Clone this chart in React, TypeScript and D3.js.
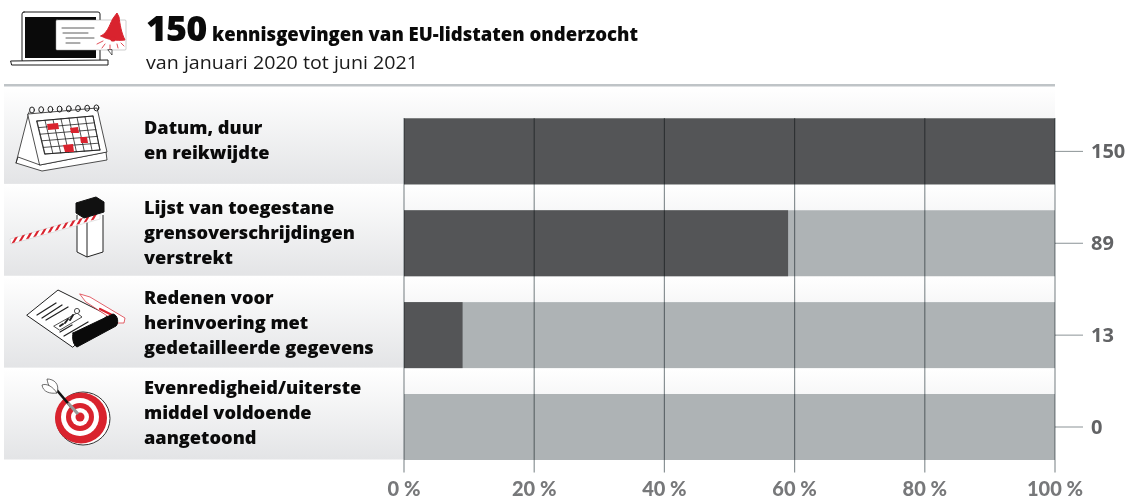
import React from "react";
import * as d3 from "d3";

const rowNames = ["datum", "lijst", "redenen", "evenredigheid"];
const rowLabels = [
  ["Datum, duur", "en reikwijdte"],
  ["Lijst van toegestane", "grensoverschrijdingen", "verstrekt"],
  ["Redenen voor", "herinvoering met", "gedetailleerde gegevens"],
  ["Evenredigheid/uiterste", "middel voldoende", "aangetoond"],
];
const counts = [150, 89, 13, 0];
const shares = [100, 59, 9, 0];
const ticks = [0, 20, 40, 60, 80, 100];
const titleNumber = "150";
const titleText = "kennisgevingen van EU-lidstaten onderzocht";
const subtitle = "van januari 2020 tot juni 2021";

const FONT = "'Open Sans', sans-serif";
const DARK = "#545557";
const LIGHT = "#aeb3b5";
const RED = "#d9232e";
const INK = "#1a1a1a";

const x = d3.scaleLinear().domain([0, 100]).range([404, 1055]);
const bandTop = d3.scaleBand<string>().domain(rowNames).range([92.5, 460]).paddingInner(0);
const labelBaselines = [134, 214, 304, 394];

function Laptop() {
  return (
    <g stroke={INK} fill="none" strokeLinejoin="round" strokeLinecap="round">
      <rect x={22} y={12} width={78} height={50} rx={2} fill="#fff" strokeWidth={1} />
      <rect x={25} y={17} width={71} height={41} fill="#0a0a0a" stroke="none" />
      <path d="M11 61 L108 60 L108 65 L12 65 Z" fill="#fff" strokeWidth={1} />
      <rect x={56} y={20} width={70} height={30} rx={1} fill="#fff" strokeWidth={0.5} stroke="#999" />
      <path d="M108 50 L112 55 L112 50 Z" fill="#fff" strokeWidth={0.7} />
      <path d="M62 28 H94 M63 33 H88 M66 38 H94 M66 43 H80" strokeWidth={0.8} stroke="#333" />
      <path d="M101 36 C109 32 110 22 114 17 L117 13 L119 17 C120 24 121 32 125 40 C117 41 108 40 101 36 Z" fill={RED} stroke={RED} />
      <circle cx={113} cy={39} r={2.6} fill={RED} stroke="none" />
      <path d="M97 44 L103 41 M102 48 L105 44 M110 49 L110 45 M118 48 L117 44 M124 46 L121 43" stroke={RED} strokeWidth={0.8} />
    </g>
  );
}

function Calendar() {
  const cols = d3.range(8);
  const lines = d3.range(6);
  return (
    <g stroke="#222" fill="none" strokeLinejoin="round" strokeLinecap="round" strokeWidth={0.8}>
      <path d="M29 112 L16 163 L42 171 L107 160 L106 152" fill="#fff" />
      <path d="M16 163 L18 157 L40 165 L106 152" />
      <path d="M28 114 L97 108 L107 152 L40 165 Z" fill="#fff" />
      <path d="M37 121 L93 116 L100 150 L45 154 Z" fill="#fff" />
      {lines.map((i) => (
        <line key={i} x1={37 + i * 1.6} y1={121 + i * 6.6} x2={93 + i * 1.4} y2={116 + i * 6.8} />
      ))}
      {cols.map((i) => (
        <line key={i} x1={37 + i * 8} y1={121 - i * 0.7} x2={45 + i * 7.85} y2={154 - i * 0.57} />
      ))}
      <path d="M47 124 L58 123 L59 129 L48 130 Z M70 128 L78 127 L79 133 L71 133 Z M80 137 L87 137 L88 143 L81 143 Z M63 145 L73 144 L74 152 L65 152 Z" fill={RED} stroke="none" />
      {d3.range(8).map((i) => (
        <ellipse key={i} cx={32 + i * 9.2} cy={110 - i * 0.3} rx={2.4} ry={3} strokeWidth={1} />
      ))}
    </g>
  );
}

function Barrier() {
  const stripes = d3.range(12);
  return (
    <g strokeLinejoin="round">
      <path d="M77 215 L77 252 L87 257 L103 252 L103 215" fill="#fff" stroke="#222" strokeWidth={1} />
      <path d="M87 222 L87 257" stroke="#222" strokeWidth={1} />
      <path d="M10 239 L100 213 L100 219 L11 244 Z" fill="#fff" stroke="#bbb" strokeWidth={0.4} />
      {stripes.map((i) => (
        <path key={i} d={`M${15 + i * 7.2} ${237.5 - i * 2.08} l3 -0.9 l-3.5 6 l-3 0.9 Z`} fill={RED} />
      ))}
      <path d="M76 203 L96 197 L104 202 L104 212 L84 218 L76 213 Z" fill="#111" stroke="#111" />
    </g>
  );
}

function Document() {
  return (
    <g strokeLinejoin="round" strokeLinecap="round">
      <path d="M27 315 L58 290 L108 315 L73 347 Z" fill="#fff" stroke="#222" strokeWidth={1} />
      <path d="M80 294 L90 297 L125 318 L124 323 L118 323 L86 302 Z" fill="#fff" stroke={RED} strokeWidth={0.7} />
      <path d="M100 309 L114 316" stroke={RED} strokeWidth={2.2} />
      <path d="M73 333 L113 314 C118 315 119 323 116 326 L77 347 C73 345 72 338 73 333 Z" fill="#0a0a0a" stroke="#0a0a0a" />
      <path d="M37 315 L56 303 M42 318 L62 305 M46 320 L68 307 M64 336 L88 322 M60 332 L72 325" stroke="#222" strokeWidth={1.3} />
      <path d="M54 326 L77 313 L82 317 L60 330 Z" fill="#fff" stroke="#222" strokeWidth={0.8} />
      <path d="M60 326 L63 324 M65 323 L68 319 M70 320 L73 315" stroke="#222" strokeWidth={2} />
      <circle cx={77} cy={311} r={2.6} fill="#fff" stroke="#222" strokeWidth={0.8} />
    </g>
  );
}

function Target() {
  return (
    <g>
      <ellipse cx={83} cy={418.5} rx={27} ry={26.5} fill="#fff" stroke="#333" strokeWidth={1} />
      <ellipse cx={81} cy={418} rx={26} ry={25.5} fill={RED} />
      <ellipse cx={80} cy={417} rx={19} ry={19} fill="#fff" />
      <ellipse cx={80} cy={417} rx={14} ry={14} fill={RED} />
      <ellipse cx={80} cy={417} rx={9} ry={9} fill="#fff" />
      <ellipse cx={80} cy={417} rx={4.5} ry={4.5} fill={RED} />
      <path d="M55 388 L72 408" stroke="#111" strokeWidth={2.6} />
      <path d="M68 403 L78 414" stroke="#999" strokeWidth={3.2} />
      <path d="M57 393 C60 384 54 379 47 379 C48 385 50 390 57 393 Z" fill="#fff" stroke="#333" strokeWidth={0.7} />
      <path d="M57 393 C50 394 43 392 42 385 C47 383 53 387 57 393 Z" fill="#fff" stroke="#333" strokeWidth={0.7} />
    </g>
  );
}

export default function App() {
  const bandH = bandTop.bandwidth();
  const barH = 66;
  const labelSize = 18.2;
  const lineH = 25;
  return (
    <svg
      width={1127}
      height={500}
      viewBox="0 0 1127 500"
      style={{ position: "absolute", left: 0, top: 0, background: "#fff" }}
      fontFamily={FONT}
    >
      <defs>
        <linearGradient id="band" x1="0" x2="0" y1="0" y2="1">
          <stop offset="0" stopColor="#ffffff" />
          <stop offset="1" stopColor="#e3e4e6" />
        </linearGradient>
      </defs>

      <Laptop />
      <text x={146} y={41} fontSize={36} fontWeight={800} fill="#0a0a0a" letterSpacing={-1}>
        {titleNumber}
      </text>
      <text x={212} y={41} fontSize={18.5} fontWeight={800} fill="#0a0a0a" textLength={426} lengthAdjust="spacingAndGlyphs">
        {titleText}
      </text>
      <text x={146} y={69} fontSize={19} fill="#1a1a1a" textLength={272} lengthAdjust="spacingAndGlyphs">
        {subtitle}
      </text>
      <rect x={4} y={84} width={1051} height={2.5} fill="#bfc4c7" />

      {rowNames.map((name, i) => {
        const y0 = bandTop(name)!;
        const top = i === 0 ? 87 : y0;
        const bottom = y0 + bandH;
        return (
          <rect key={name} x={4} y={top} width={1051} height={bottom - top - 0.5} fill="url(#band)" />
        );
      })}

      {rowNames.map((name, i) => {
        const bottom = bandTop(name)! + bandH;
        const y = bottom - barH;
        return (
          <g key={name}>
            <rect x={x(0)} y={y} width={x(100) - x(0)} height={barH} fill={LIGHT} />
            <rect x={x(0)} y={y} width={x(shares[i]) - x(0)} height={barH} fill={DARK} />
            <line x1={x(100)} x2={x(100) + 28} y1={y + barH / 2} y2={y + barH / 2} stroke="#8b9396" strokeWidth={1} />
            <text x={1091} y={y + barH / 2 + 7} fontSize={20} fontWeight={700} fill="#626365">
              {counts[i]}
            </text>
          </g>
        );
      })}

      {ticks.map((t) => (
        <g key={t}>
          <line
            x1={x(t)}
            x2={x(t)}
            y1={118}
            y2={472.5}
            stroke="#8b9396"
            strokeWidth={1.2}
            style={{ mixBlendMode: "multiply" }}
          />
          <text
            x={x(t)}
            y={496}
            textAnchor="middle"
            fontFamily="Lato, sans-serif"
            fontSize={20}
            fontWeight={900}
            fill="#77787a"
          >
            {`${t} %`}
          </text>
        </g>
      ))}

      {rowNames.map((name, i) => (
        <text key={name} fontSize={labelSize} fontWeight={800} fill="#0a0a0a">
          {rowLabels[i].map((l, j) => (
            <tspan key={j} x={144} y={labelBaselines[i] + j * lineH}>
              {l}
            </tspan>
          ))}
        </text>
      ))}

      <Calendar />
      <Barrier />
      <Document />
      <Target />
    </svg>
  );
}
